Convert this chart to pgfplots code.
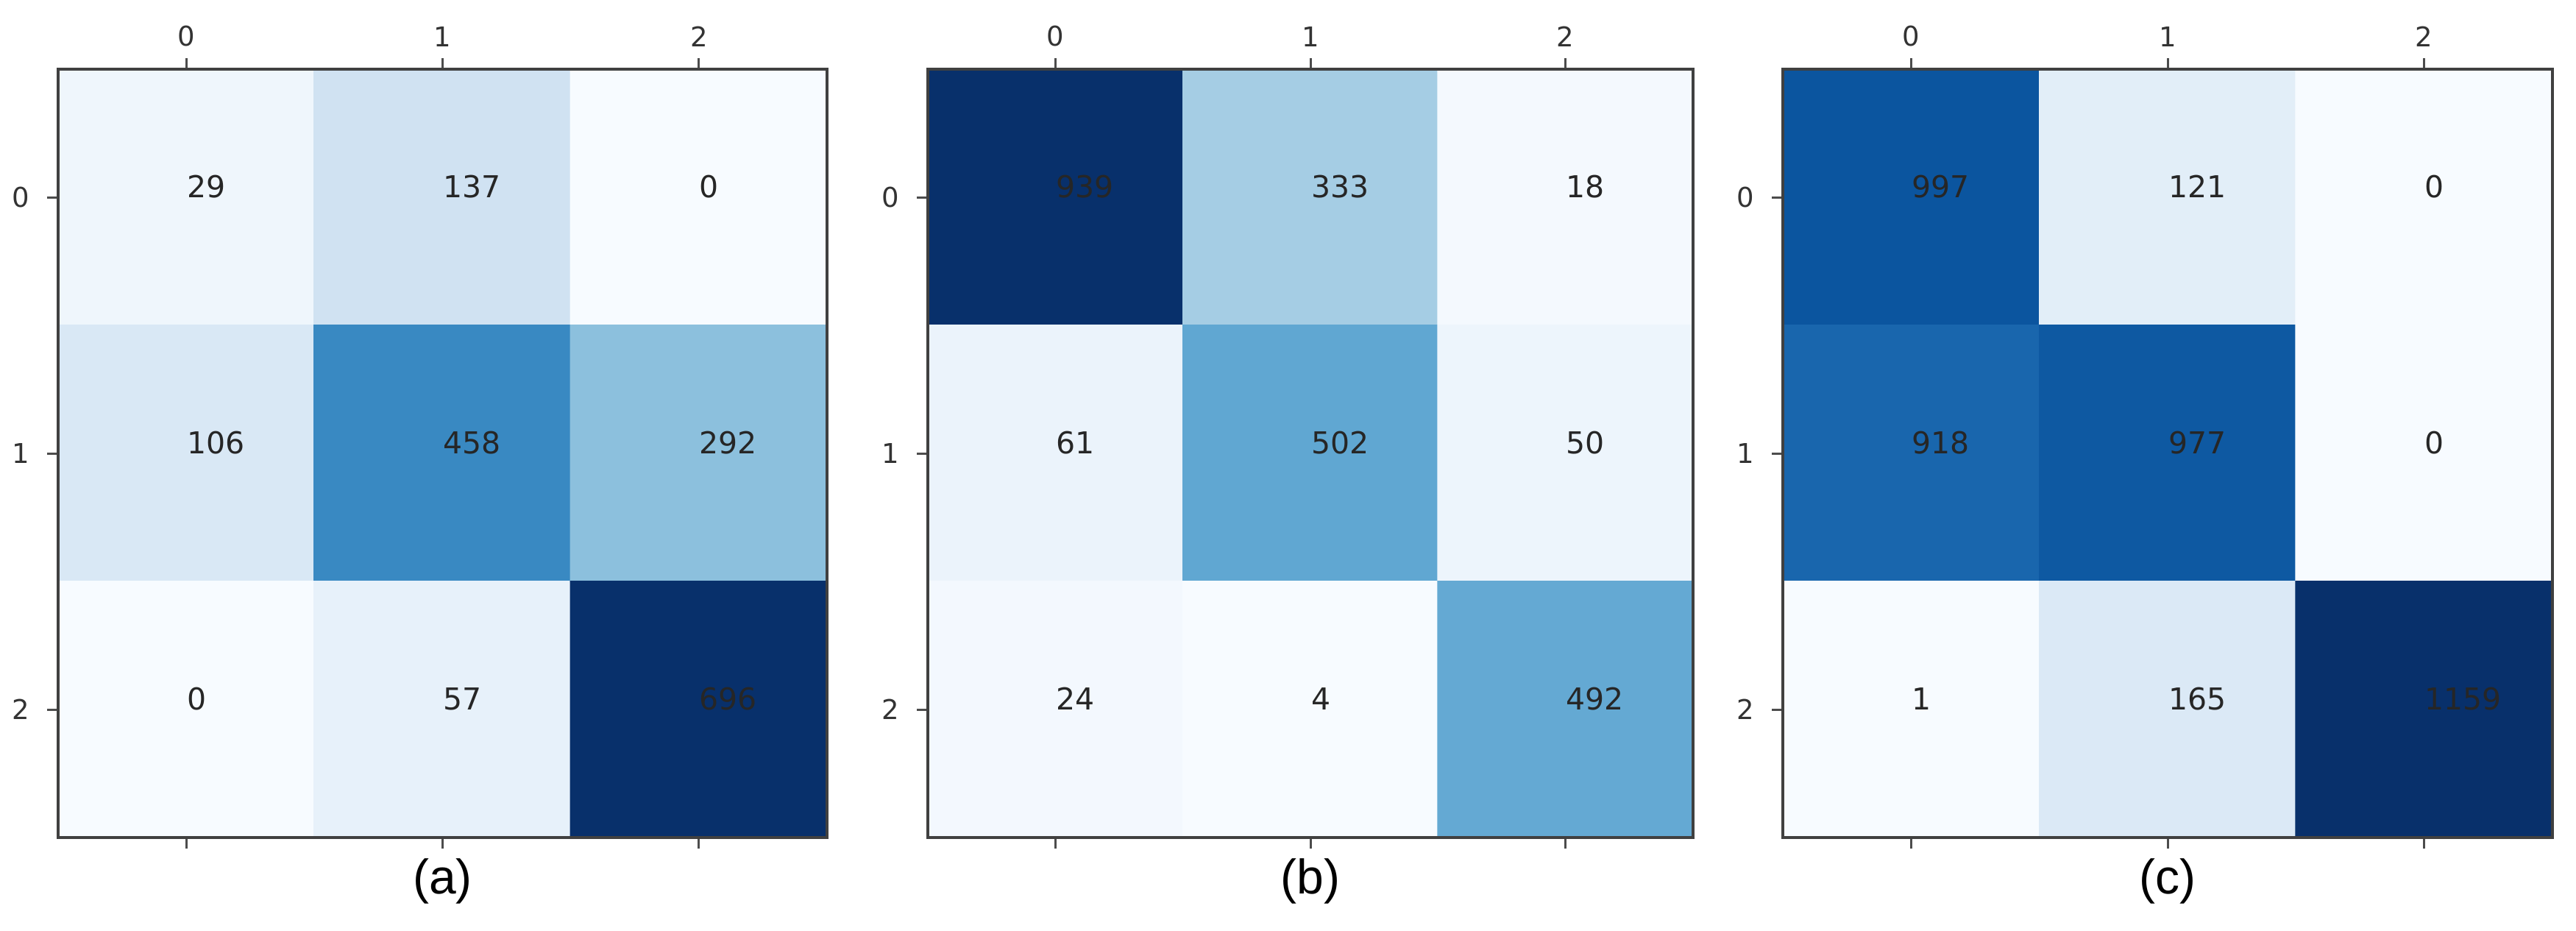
\documentclass[border=0pt]{standalone}
\usepackage{fontspec}
\setmainfont{DejaVu Sans}
\newfontfamily\capfont{Liberation Sans}
\usepackage{pgfplots}
\pgfplotsset{compat=1.18}
\usepackage{pgfplotstable}

\pgfplotstableread{
x y C
0 0 29
1 0 137
2 0 0
0 1 106
1 1 458
2 1 292
0 2 0
1 2 57
2 2 696
}\dataA
\pgfplotstableread{
x y C
0 0 939
1 0 333
2 0 18
0 1 61
1 1 502
2 1 50
0 2 24
1 2 4
2 2 492
}\dataB
\pgfplotstableread{
x y C
0 0 997
1 0 121
2 0 0
0 1 918
1 1 977
2 1 0
0 2 1
1 2 165
2 2 1159
}\dataC

\pgfplotsset{
  cm/.style={
    scale only axis,
    height=208.8pt,
    anchor=north west,
    xmin=-0.5, xmax=2.5, ymin=-0.5, ymax=2.5,
    y dir=reverse,
    axis on top,
    xtick={0,1,2}, ytick={0,1,2},
    xticklabel pos=upper,
    xtick pos=both,
    ytick pos=left,
    tick align=outside,
    major tick length=3pt,
    tick style={draw=black!70, line width=0.6pt},
    axis line style={draw=black!75, line width=0.7pt},
    /pgf/number format/assume math mode=true,
    tick label style={font=\fontsize{7.4}{8}\selectfont, text=black!80},
    xticklabel style={yshift=-0.4pt},
    yticklabel style={xshift=-1.2pt},
    colormap={blues}{rgb255=(247,251,255) rgb255=(222,235,247) rgb255=(198,219,239) rgb255=(158,202,225) rgb255=(107,174,214) rgb255=(66,146,198) rgb255=(33,113,181) rgb255=(8,81,156) rgb255=(8,48,107)},
    xlabel style={at={(axis description cs:0.5,0)}, anchor=center, yshift=-11.8pt, font=\capfont\fontsize{13.2}{14}\selectfont},
  },
  cells/.style={matrix plot*, mesh/cols=3, point meta=explicit},
  nums/.style={only marks, mark=none, nodes near coords, point meta=explicit symbolic,
    nodes near coords style={anchor=base west, inner sep=0pt, font=\fontsize{8.2}{9}\selectfont, text=black!85}},
}

\begin{document}
\begin{tikzpicture}
\useasboundingbox (0,0) rectangle (700.2pt,252.8pt);
\begin{axis}[cm, at={(15.8pt,234pt)}, width=209pt, xlabel={(a)}]
\addplot[cells] table[meta=C]{\dataA};
\addplot[nums] table[meta=C]{\dataA};
\end{axis}
\begin{axis}[cm, at={(252.2pt,234pt)}, width=208pt, xlabel={(b)}]
\addplot[cells] table[meta=C]{\dataB};
\addplot[nums] table[meta=C]{\dataB};
\end{axis}
\begin{axis}[cm, at={(484.6pt,234pt)}, width=209.2pt, xlabel={(c)}]
\addplot[cells] table[meta=C]{\dataC};
\addplot[nums] table[meta=C]{\dataC};
\end{axis}
\end{tikzpicture}
\end{document}
